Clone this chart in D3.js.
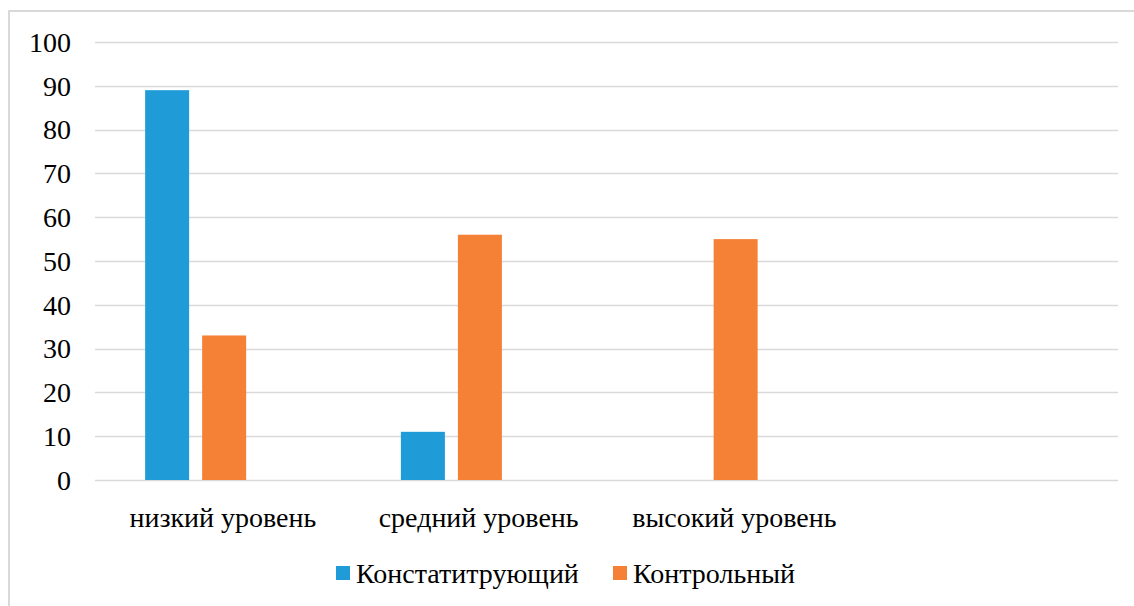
<!DOCTYPE html>
<html><head><meta charset="utf-8">
<script src="https://cdn.jsdelivr.net/npm/d3@7"></script>
<style>body{margin:0;background:#fff}svg{display:block}</style>
</head><body>
<svg id="c" width="1134" height="606"></svg>
<script>
const categories = ["низкий уровень", "средний уровень", "высокий уровень", ""];
const seriesNames = ["Констатитрующий", "Контрольный"];
const valuesConst = [89, 11, 0, null];
const valuesCtrl = [33, 56, 55, null];
const yTicks = [0, 10, 20, 30, 40, 50, 60, 70, 80, 90, 100];
const colors = ["#1f9bd7", "#f58137"];

(function(){
const svg = d3.select("#c");
const fs = "28px";
const ff = '"Liberation Serif"';

// outer border
svg.append("rect").attr("x", 9).attr("y", 11).attr("width", 1140).attr("height", 610)
  .attr("fill", "#fff").attr("stroke", "#d9d9d9").attr("stroke-width", 2);

const mLeft = 95, mRight = 1118, mTop = 42, mBottom = 480;
const x = d3.scaleBand().domain(categories.map((d, i) => i)).range([mLeft, mRight]).padding(0);
const y = d3.scaleLinear().domain([0, 100]).range([mBottom, mTop]);
const inner = d3.scaleBand().domain(seriesNames)
  .range([x.bandwidth() * 0.196, x.bandwidth() * 0.591]).paddingInner(0.228);

// gridlines
svg.append("g").selectAll("line").data(yTicks).join("line")
  .attr("x1", mLeft).attr("x2", mRight)
  .attr("y1", d => Math.round(y(d)) + 0.5).attr("y2", d => Math.round(y(d)) + 0.5)
  .attr("stroke", "#d9d9d9").attr("stroke-width", 1.3);

// y labels
const yAxis = d3.axisLeft(y).tickValues(yTicks).tickSize(0).tickPadding(0);
const ga = svg.append("g").attr("transform", `translate(71,0)`).call(yAxis);
ga.select(".domain").remove();
ga.selectAll("text").style("font-family", ff).style("font-size", fs).attr("fill", "#000").attr("dy", "0.33em");

// bars
const data = [valuesConst, valuesCtrl];
data.forEach((vals, si) => {
  svg.append("g").selectAll("rect")
    .data(vals.map((v, i) => ({v, i})).filter(d => d.v !== null && d.v > 0))
    .join("rect")
    .attr("x", d => x(d.i) + inner(seriesNames[si]))
    .attr("width", inner.bandwidth())
    .attr("y", d => y(d.v))
    .attr("height", d => y(0) - y(d.v))
    .attr("fill", colors[si]);
});

// category labels
svg.append("g").selectAll("text").data(categories).join("text")
  .attr("x", (d, i) => x(i) + x.bandwidth() / 2)
  .attr("y", 527)
  .attr("text-anchor", "middle")
  .style("font-family", ff).style("font-size", fs).attr("fill", "#000")
  .text(d => d);

// legend
const legX = [336, 613];
const lg = svg.append("g");
seriesNames.forEach((s, i) => {
  lg.append("rect").attr("x", legX[i]).attr("y", 566).attr("width", 14).attr("height", 14).attr("fill", colors[i]);
  lg.append("text").attr("x", legX[i] + 20).attr("y", 583)
    .style("font-family", ff).style("font-size", fs).attr("fill", "#000").text(s);
});
})();
</script>
</body></html>
